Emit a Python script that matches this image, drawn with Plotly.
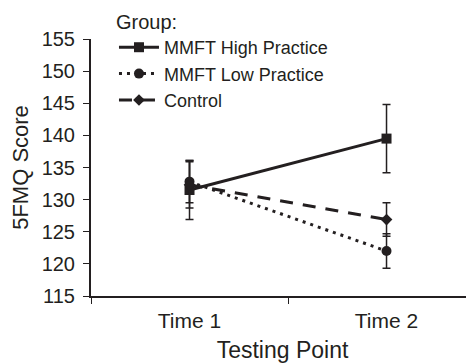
import plotly.graph_objects as go

times = ["Time 1", "Time 2"]
high_mean = [131.5, 139.5]
high_err = [4.6, 5.3]
low_mean = [132.8, 122.0]
low_err = [3.3, 2.7]
ctrl_mean = [132.3, 126.9]
ctrl_err = [3.6, 2.6]

ink = "#231f20"

fig = go.Figure()
fig.add_trace(go.Scatter(
    x=times, y=high_mean, name="MMFT High Practice", mode="lines+markers",
    line=dict(color=ink, width=3, dash="solid"),
    marker=dict(symbol="square", size=10, color=ink),
    error_y=dict(type="data", array=high_err, color=ink, thickness=1.5, width=4),
))
fig.add_trace(go.Scatter(
    x=times, y=low_mean, name="MMFT Low Practice", mode="lines+markers",
    line=dict(color=ink, width=3, dash="3px,5px"),
    marker=dict(symbol="circle", size=10, color=ink),
    error_y=dict(type="data", array=low_err, color=ink, thickness=1.5, width=4),
))
fig.add_trace(go.Scatter(
    x=times, y=ctrl_mean, name="Control", mode="lines+markers",
    line=dict(color=ink, width=3, dash="13px,10px"),
    marker=dict(symbol="diamond", size=9, color=ink),
    error_y=dict(type="data", array=ctrl_err, color=ink, thickness=1.5, width=4),
))

fig.update_layout(
    template="none",
    width=466, height=356,
    margin=dict(l=83, r=0, t=31, b=68, autoexpand=False),
    paper_bgcolor="white", plot_bgcolor="white",
    font=dict(family="Arial, Liberation Sans, sans-serif", size=18, color=ink),
    showlegend=True,
    legend=dict(
        title=dict(text="Group:", font=dict(size=20)),
        x=0.06, y=1.14, xanchor="left", yanchor="top",
        bgcolor="rgba(0,0,0,0)", font=dict(size=18),
        tracegroupgap=0, itemwidth=40,
    ),
    xaxis=dict(
        type="category", range=[-0.5, 1.444], automargin=False,
        showline=True, linecolor=ink, linewidth=2,
        ticks="outside", tickson="boundaries", ticklen=6, tickcolor=ink, tickwidth=1,
        showgrid=False, zeroline=False, ticklabelstandoff=5,
        title=dict(text="Testing Point", font=dict(size=23), standoff=11),
        tickfont=dict(size=21),
    ),
    yaxis=dict(
        range=[115, 155], dtick=5, tick0=115, automargin=False,
        showline=True, linecolor=ink, linewidth=2,
        ticks="outside", ticklen=6, tickcolor=ink, tickwidth=1,
        showgrid=False, zeroline=False, ticklabelstandoff=4,
        title=dict(text="5FMQ Score", font=dict(size=22), standoff=14),
        tickfont=dict(size=20),
    ),
)

fig.write_html("out.html")
